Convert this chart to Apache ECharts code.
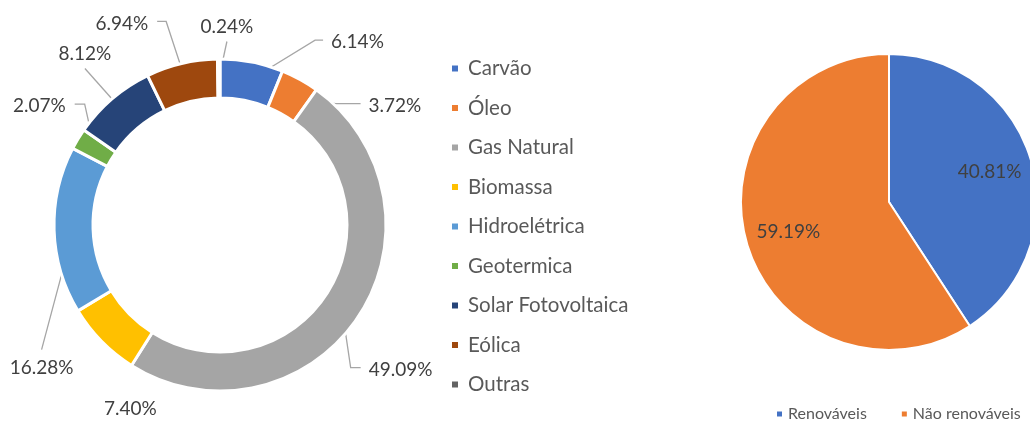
<!DOCTYPE html>
<html>
<head>
<meta charset="utf-8">
<title>Matriz</title>
<script src="https://cdn.jsdelivr.net/npm/echarts@6/dist/echarts.min.js"></script>
<style>
html,body{margin:0;padding:0;background:#fff;}
#main{width:1030px;height:421px;}
</style>
</head>
<body>
<div id="main"></div>
<script>
// dados
var fontes = ['Carvão', 'Óleo', 'Gas Natural', 'Biomassa', 'Hidroelétrica', 'Geotermica', 'Solar Fotovoltaica', 'Eólica', 'Outras'];
var fontesPct = [6.14, 3.72, 49.09, 7.40, 16.28, 2.07, 8.12, 6.94, 0.24];
var tipos = ['Renováveis', 'Não renováveis'];
var tiposPct = [40.81, 59.19];

var coresFontes = ['#4472C4', '#ED7D31', '#A5A5A5', '#FFC000', '#5B9BD5', '#70AD47', '#264478', '#9E480E', '#636363'];
var coresTipos = ['#4472C4', '#ED7D31'];

var fonte = 'Lato';
var rIn = 127, rOut = 166;

// linhas de chamada (como no Excel): desvio do cotovelo, trecho horizontal, lado do texto
var guia = [
    [67, -41, 8, 'r'],
    [45, 7, 25, 'r'],
    [9, 61, 10, 'r'],
    [15, 81, 0, 'n'],
    [-32, 120, 0, 'b'],
    [-10, -45, -10, 'l'],
    [-40, -45, 0, 't'],
    [-20, -61, -9, 'l'],
    [8, -37, 0, 't']
];

var myChart = echarts.init(document.getElementById('main'));

var dadosFontes = fontes.map(function (n, i) {
    return { name: n, value: fontesPct[i], itemStyle: { color: coresFontes[i] } };
});
var dadosTipos = tipos.map(function (n, i) {
    return { name: n, value: tiposPct[i], itemStyle: { color: coresTipos[i] } };
});

function pct(p) {
    return p.value.toFixed(2) + '%';
}

var option = {
    animation: false,
    textStyle: { fontFamily: fonte },
    legend: [{
        orient: 'vertical',
        left: 450,
        top: 58,
        padding: 0,
        itemWidth: 8,
        itemHeight: 8,
        itemGap: 18.5,
        icon: 'rect',
        data: fontes,
        textStyle: { color: '#595959', fontSize: 20.5, padding: [0, 0, 0, 4] }
    }, {
        orient: 'horizontal',
        left: 775,
        top: 406,
        width: 400,
        padding: 0,
        itemWidth: 7,
        itemHeight: 7,
        itemGap: 33,
        icon: 'rect',
        data: tipos,
        textStyle: { color: '#595959', fontSize: 16 }
    }],
    series: [{
        type: 'pie',
        center: [220, 225],
        radius: [rIn, rOut],
        startAngle: 90,
        clockwise: true,
        avoidLabelOverlap: false,
        silent: true,
        itemStyle: { borderColor: '#fff', borderWidth: 3 },
        label: {
            show: true,
            position: 'outside',
            formatter: pct,
            color: '#404040',
            fontSize: 19
        },
        labelLine: {
            show: true,
            length: 10,
            length2: 5,
            lineStyle: { color: '#A6A6A6', width: 1.3 }
        },
        labelLayout: function (p) {
            var g = guia[p.dataIndex];
            var pts = p.labelLinePoints;
            if (!pts) return {};
            var ux = pts[1][0] - pts[0][0], uy = pts[1][1] - pts[0][1];
            var n = Math.sqrt(ux * ux + uy * uy) || 1;
            ux /= n; uy /= n;
            var meio = (rOut - rIn) / 2;
            var s = [pts[0][0] - ux * meio, pts[0][1] - uy * meio];
            var e1 = [s[0] + g[0], s[1] + g[1]];
            var e2 = [e1[0] + g[2], e1[1]];
            var o = { labelLinePoints: [s, e1, e2] };
            if (g[3] === 'r') {
                o.x = e2[0] + 8; o.y = e2[1] + 2; o.align = 'left'; o.verticalAlign = 'middle';
            } else if (g[3] === 'l') {
                o.x = e2[0] - 9; o.y = e2[1] + 2; o.align = 'right'; o.verticalAlign = 'middle';
            } else if (g[3] === 't') {
                o.x = e2[0]; o.y = e2[1] - 5; o.align = 'center'; o.verticalAlign = 'bottom';
            } else if (g[3] === 'b') {
                o.x = e2[0]; o.y = e2[1] + 9; o.align = 'center'; o.verticalAlign = 'top';
            } else {
                o.x = e1[0]; o.y = e1[1]; o.align = 'center'; o.verticalAlign = 'middle';
                o.labelLinePoints = [e1, e1, e1];
            }
            return o;
        },
        data: dadosFontes
    }, {
        type: 'pie',
        center: [889, 202],
        radius: [0, 148],
        startAngle: 90,
        clockwise: true,
        silent: true,
        itemStyle: { borderColor: '#fff', borderWidth: 2 },
        label: { show: false },
        labelLine: { show: false },
        data: dadosTipos
    }, {
        // camada so para os rotulos internos
        type: 'pie',
        center: [889, 202],
        radius: [56, 148],
        startAngle: 90,
        clockwise: true,
        silent: true,
        itemStyle: { color: 'transparent', borderWidth: 0 },
        label: {
            show: true,
            position: 'inside',
            formatter: pct,
            color: '#404040',
            fontSize: 19
        },
        labelLine: { show: false },
        data: tipos.map(function (n, i) {
            return { name: n, value: tiposPct[i] };
        })
    }]
};

myChart.setOption(option);
</script>
</body>
</html>
